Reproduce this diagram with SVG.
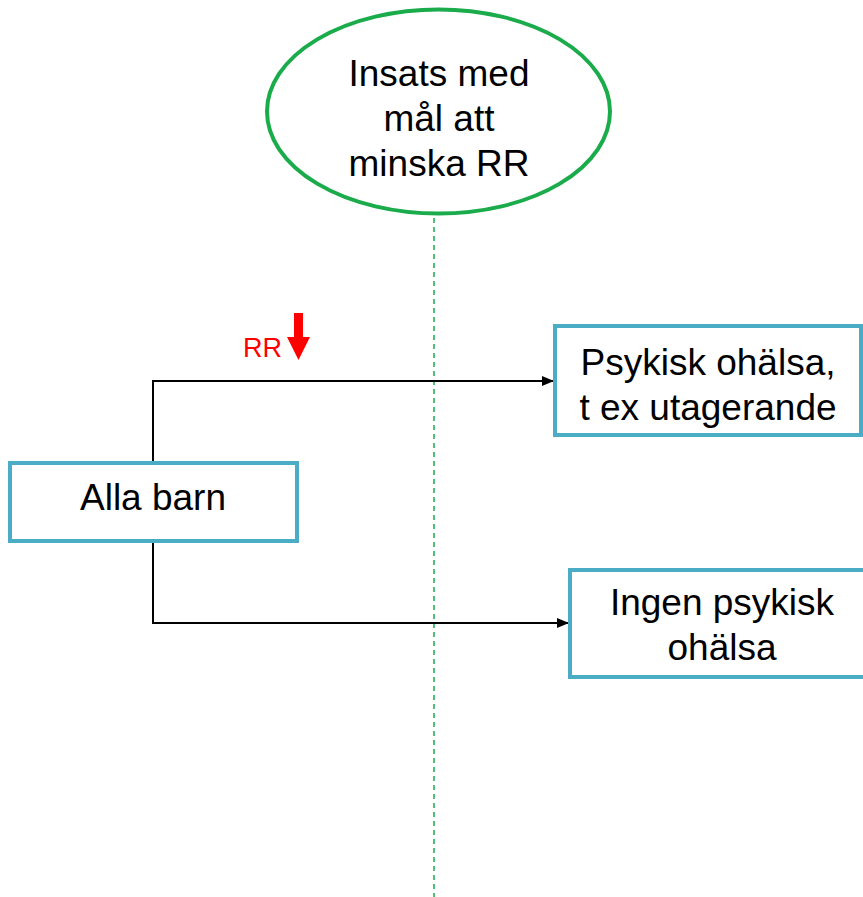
<svg xmlns="http://www.w3.org/2000/svg" width="863" height="897" viewBox="0 0 863 897">
<style>
.box{fill:#fff;stroke:#4BACC6;stroke-width:4}
.t{font-family:"Liberation Sans",Arial,sans-serif;font-size:37px;fill:#000;text-anchor:middle}
.c{fill:none;stroke:#000;stroke-width:2}
</style>
<defs>
<marker id="ah" markerWidth="12" markerHeight="10" refX="11" refY="5" orient="auto" markerUnits="userSpaceOnUse">
<path d="M0,0 L12,5 L0,10 Z" fill="#000"/>
</marker>
</defs>
<line x1="434" y1="218" x2="434" y2="897" stroke="#1AAB4B" stroke-width="1.5" stroke-dasharray="5,4"/>
<g id="insats">
<ellipse cx="438.5" cy="111.5" rx="171.5" ry="102" fill="#fff" stroke="#1AAB4B" stroke-width="4"/>
<text class="t" x="439" y="86">Insats med</text>
<text class="t" x="439" y="131">mål att</text>
<text class="t" x="439" y="176">minska RR</text>
</g>
<g id="connectors">
<path class="c" d="M153,463 V381 H553" marker-end="url(#ah)"/>
<path class="c" d="M153,541 V623 H568" marker-end="url(#ah)"/>
</g>
<g id="rr">
<text x="243" y="357" font-family="Liberation Sans,Arial,sans-serif" font-size="27" fill="#FF0000">RR</text>
<path d="M294,313 H303 V337 H310 L298.5,360 L287,337 H294 Z" fill="#FF0000"/>
</g>
<g id="psykisk">
<rect class="box" x="555" y="326" width="306" height="109"/>
<text class="t" x="708" y="375">Psykisk ohälsa,</text>
<text class="t" x="708" y="420">t ex utagerande</text>
</g>
<g id="alla">
<rect class="box" x="10" y="463" width="287" height="78"/>
<text class="t" x="153" y="510">Alla barn</text>
</g>
<g id="ingen">
<rect class="box" x="570" y="570" width="295" height="107"/>
<text class="t" x="722" y="615">Ingen psykisk</text>
<text class="t" x="722" y="660">ohälsa</text>
</g>
</svg>
